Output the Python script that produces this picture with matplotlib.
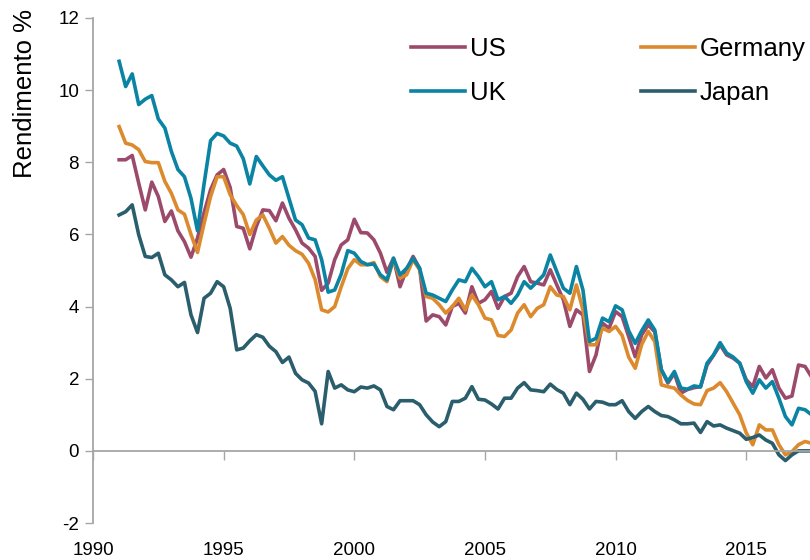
import numpy as np
import pandas as pd
import matplotlib
matplotlib.use("Agg")
import matplotlib.pyplot as plt

plt.rcParams['font.family'] = ['Liberation Sans', 'DejaVu Sans']
plt.rcParams['axes.unicode_minus'] = False

# quarterly 10y government bond yields, %, from 1991Q1
us = [8.07, 8.07, 8.19, 7.42, 6.68, 7.45, 7.05, 6.36, 6.65, 6.1, 5.8, 5.37,
      5.9, 6.6, 7.24, 7.65, 7.8, 7.3, 6.22, 6.17, 5.6, 6.22, 6.68, 6.66,
      6.38, 6.87, 6.45, 6.13, 5.76, 5.62, 5.39, 4.45, 4.65, 5.3, 5.71, 5.85,
      6.42, 6.05, 6.04, 5.85, 5.48, 4.95, 5.34, 4.55, 5.02, 5.39, 5.06, 3.6,
      3.77, 3.72, 3.49, 4.0, 4.09, 3.82, 4.55, 4.09, 4.19, 4.42, 3.95, 4.28,
      4.37, 4.83, 5.11, 4.69, 4.65, 4.6, 5.02, 4.6, 4.19, 3.45, 3.91, 3.77,
      2.2, 2.66, 3.54, 3.4, 3.86, 3.72, 3.17, 2.61, 3.22, 3.49, 3.3, 2.25,
      1.88, 2.15, 1.6, 1.7, 1.75, 1.78, 2.38, 2.65, 2.94, 2.66, 2.57, 2.43,
      1.97, 1.78, 2.34, 2.02, 2.25, 1.74, 1.46, 1.52, 2.38, 2.34, 2.05]
germany = [8.99, 8.53, 8.48, 8.35, 8.02, 7.99, 7.99, 7.47, 7.14, 6.68, 6.56, 6.0,
           5.5, 6.3, 7.05, 7.6, 7.6, 7.1, 6.8, 6.55, 6.0, 6.4, 6.54, 6.17,
           5.76, 5.94, 5.7, 5.55, 5.45, 5.2, 4.75, 3.91, 3.85, 4.0, 4.55, 5.05,
           5.3, 5.16, 5.16, 5.22, 4.83, 4.69, 5.3, 4.79, 4.88, 5.3, 5.02, 4.28,
           4.23, 4.05, 3.82, 4.0, 4.23, 3.91, 4.32, 4.05, 3.68, 3.63, 3.2, 3.17,
           3.35, 3.82, 4.05, 3.72, 3.95, 4.05, 4.55, 4.32, 4.28, 3.91, 4.6, 3.91,
           2.94, 2.94, 3.4, 3.31, 3.45, 3.2, 2.6, 2.29, 2.95, 3.31, 3.03, 1.83,
           1.78, 1.74, 1.55, 1.4, 1.3, 1.28, 1.67, 1.74, 1.89, 1.64, 1.32, 1.0,
           0.5, 0.17, 0.72, 0.58, 0.58, 0.17, -0.11, -0.02, 0.17, 0.26, 0.21]
uk = [10.8, 10.1, 10.45, 9.6, 9.75, 9.85, 9.2, 8.95, 8.3, 7.8, 7.6, 7.0,
      6.1, 7.4, 8.6, 8.8, 8.73, 8.53, 8.45, 8.1, 7.4, 8.16, 7.9, 7.65,
      7.5, 7.6, 7.0, 6.4, 6.27, 5.9, 5.85, 5.3, 4.4, 4.46, 4.9, 5.55,
      5.48, 5.25, 5.16, 5.18, 4.88, 4.74, 5.34, 4.88, 5.06, 5.34, 5.06, 4.37,
      4.32, 4.23, 4.14, 4.46, 4.74, 4.69, 5.06, 4.83, 4.55, 4.69, 4.19, 4.28,
      4.09, 4.32, 4.69, 4.51, 4.69, 4.88, 5.43, 4.97, 4.51, 4.37, 5.11, 4.46,
      3.03, 3.12, 3.68, 3.58, 4.02, 3.91, 3.33, 2.98, 3.33, 3.63, 3.35, 2.25,
      1.92, 2.2, 1.74, 1.71, 1.8, 1.77, 2.43, 2.66, 3.0, 2.71, 2.6, 2.43,
      1.92, 1.6, 1.97, 1.74, 1.92, 1.46, 0.95, 0.72, 1.18, 1.14, 1.0]
japan = [6.54, 6.63, 6.82, 5.99, 5.39, 5.36, 5.48, 4.88, 4.74, 4.55, 4.67, 3.77,
         3.28, 4.23, 4.37, 4.69, 4.55, 3.95, 2.8, 2.85, 3.05, 3.22, 3.15, 2.9,
         2.75, 2.45, 2.6, 2.15, 1.97, 1.88, 1.65, 0.75, 2.2, 1.74, 1.83, 1.69,
         1.64, 1.77, 1.74, 1.8, 1.69, 1.23, 1.14, 1.39, 1.39, 1.39, 1.28, 1.0,
         0.8, 0.67, 0.81, 1.37, 1.37, 1.46, 1.78, 1.43, 1.41, 1.3, 1.16, 1.46,
         1.46, 1.74, 1.89, 1.69, 1.67, 1.64, 1.85, 1.7, 1.6, 1.28, 1.6, 1.43,
         1.16, 1.37, 1.35, 1.28, 1.28, 1.39, 1.09, 0.9, 1.09, 1.23, 1.09, 0.98,
         0.95, 0.86, 0.75, 0.75, 0.77, 0.51, 0.81, 0.69, 0.72, 0.63, 0.56, 0.49,
         0.32, 0.37, 0.44, 0.3, 0.21, -0.11, -0.27, -0.11, 0.0, 0.0, 0.0]

labels = ['US', 'Germany', 'UK', 'Japan']
colors = ['#9C4A6B', '#DC8A2E', '#0B84A4', '#2B5E6D']

quarters = pd.period_range('1991Q1', periods=len(us), freq='Q')
t = quarters.year + (quarters.quarter - 1) / 4

fig = plt.figure(figsize=(8.1, 5.6), dpi=100)
ax = fig.add_axes([93/810, 1 - 523/560, 1 - 93/810, (523 - 18)/560])

lines = {}
for y, lab, c in zip([us, germany, uk, japan], labels, colors):
    lines[lab], = ax.plot(t, y, color=c, lw=2.6, label=lab, solid_joinstyle='round')

ax.set_xlim(1990, 2017.44)
ax.set_ylim(-2, 12)
ax.set_yticks(np.arange(-2, 13, 2))
ax.set_xticks(np.arange(1990, 2016, 5))

grey = '#A6A6A6'
for s in ['top', 'right']:
    ax.spines[s].set_visible(False)
ax.spines['bottom'].set_position(('data', 0))
ax.spines['bottom'].set_color(grey)
ax.spines['left'].set_color(grey)
ax.spines['bottom'].set_linewidth(1.3)
ax.spines['left'].set_linewidth(1.3)
ax.tick_params(axis='y', direction='out', length=6, width=1, color=grey,
               labelsize=13.5, pad=4)
ax.tick_params(axis='x', direction='out', length=6.5, width=1, color=grey,
               labelsize=13.5, pad=59)

fig.text(25/810, 1 - 9/560, 'Rendimento %', rotation=90, ha='center',
         va='top', fontsize=18.5)

# legend rows: US / Germany, UK / Japan (matplotlib fills column-wise)
order = ['US', 'UK', 'Germany', 'Japan']
ax.legend([lines[k] for k in order], order, ncol=2, frameon=False,
          loc='upper left', bbox_to_anchor=(411/810, 1 - 37/560),
          bbox_transform=fig.transFigure, borderaxespad=0, borderpad=0,
          fontsize=18.5, handlelength=2.1, handletextpad=0.2,
          columnspacing=5.25, labelspacing=0.77)

fig.savefig('out.png', dpi=100)
